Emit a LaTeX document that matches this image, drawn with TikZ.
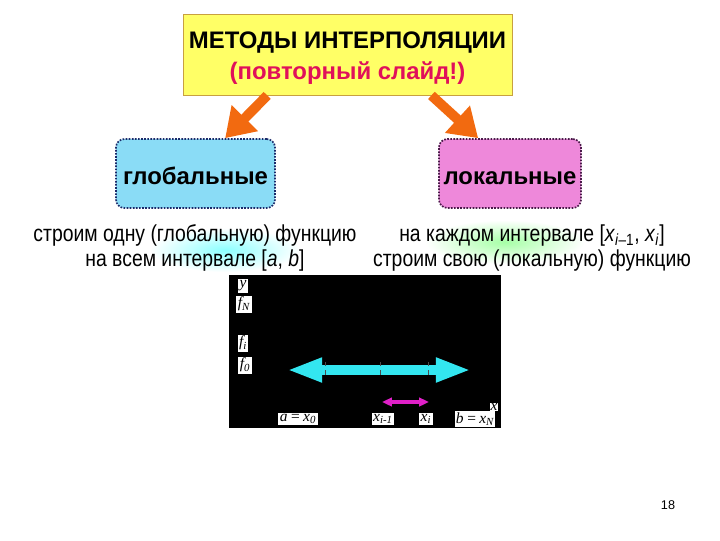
\documentclass[tikz,border=0pt]{standalone}
\usepackage{fontspec}
\setmainfont{Liberation Sans}
\newfontfamily\narrowfont{Liberation Sans}[FakeStretch=0.84]
\newfontfamily\labfont{Liberation Serif}
\usepackage{tikz}
\usetikzlibrary{arrows.meta,positioning,calc}
\definecolor{titlefill}{HTML}{FFFF66}
\definecolor{titleline}{HTML}{C8A040}
\definecolor{redtext}{HTML}{E0105A}
\definecolor{orangearr}{HTML}{F26A10}
\definecolor{globfill}{HTML}{8ADCF6}
\definecolor{globline}{HTML}{1A2A6A}
\definecolor{locfill}{HTML}{EE88DA}
\definecolor{locline}{HTML}{4A1A4A}
\definecolor{cyanarr}{HTML}{33E6F0}
\definecolor{magarr}{HTML}{E020C8}

\begin{document}
\begin{tikzpicture}[
  x=0.025cm, y=-0.025cm,
  topic/.style={rectangle, draw=titleline, fill=titlefill, line width=0.6pt,
    minimum width=329*0.711pt, minimum height=81*0.711pt, align=center,
    font=\fontsize{17}{21}\selectfont\bfseries},
  kind/.style={rectangle, rounded corners=6pt, densely dotted, line width=1.2pt,
    minimum height=69*0.711pt, text height=16.5pt, text depth=1pt,
    font=\fontsize{17}{20}\selectfont\bfseries},
  note/.style={align=center, font=\narrowfont\fontsize{16.4}{17.3}\selectfont},
  tag/.style={fill=white, inner sep=1pt, font=\labfont\itshape\fontsize{11}{12}\selectfont},
  bigarr/.style={-{Triangle[length=20pt, width=25pt]}, line width=7pt, orangearr},
]
  \useasboundingbox (0,0) rectangle (720,540);

  % soft glow behind the notes
  \shade[inner color=cyan!45, outer color=white] (225,250) ellipse (75 and 22);
  \shade[inner color=green!35, outer color=white] (505,242) ellipse (80 and 22);

  \node[topic] (title) at (347.5,54.5) {\rule{0pt}{17.5pt}МЕТОДЫ ИНТЕРПОЛЯЦИИ\\[1pt]
    {\color{redtext}(повторный слайд!)}};

  \node[kind, draw=globline, fill=globfill, minimum width=159*0.711pt] (glob) at (195.5,173.5) {глобальные};
  \node[kind, draw=locline, fill=locfill, minimum width=142*0.711pt] (loc) at (510,173.5) {локальные};

  \draw[bigarr] (title.207) -- (glob.50);
  \draw[bigarr] (title.334) -- (loc.132);

  \node[note] (globnote) at (195,248) {строим одну (глобальную) функцию\\на всем интервале [\textit{a}, \textit{b}]};
  \node[note] (locnote) at (532,248) {на каждом интервале [\textit{x}\textsubscript{\textit{i}–1}, \textit{x}\textsubscript{\textit{i}}]\\строим свою (локальную) функцию};

  % plot area
  \fill[black] (229,275) rectangle (501,428);

  \node[tag] (ly) at (243,286) {y};
  \node[tag] (lfn) at (244,304) {f\textsubscript{N}};
  \node[tag] (lfi) at (243,343) {f\textsubscript{i}};
  \node[tag] (lf0) at (245,365) {f\textsubscript{0}};
  \node[tag] (la) at (298,419) {a\,=\,x\textsubscript{0}};
  \node[tag] (lxm) at (383,419) {x\textsubscript{i-1}};
  \node[tag] (lxi) at (426,419) {x\textsubscript{i}};
  \node[tag] (lb) at (475,419) {b\,=\,x\textsubscript{N}};
  \node[tag, inner sep=0.5pt] (lx) at (494,407) {x};

  \coordinate (ga) at (287,370);
  \coordinate (gb) at (471,370);
  \draw[{Triangle[length=25pt, width=16pt]}-{Triangle[length=25pt, width=16pt]}, line width=7pt, cyanarr] (ga) -- (gb);
  \foreach \xx in {325,380,428}
    \draw[black!70, thin, dashed] (\xx,362) -- (\xx,378);

  \coordinate (ma) at (382,402);
  \coordinate (mb) at (429,402);
  \draw[{Triangle[length=7pt, width=6pt]}-{Triangle[length=7pt, width=6pt]}, line width=2.6pt, magarr] (ma) -- (mb);

  \node[font=\fontsize{9}{10}\selectfont] (page) at (668,505) {18};
\end{tikzpicture}
\end{document}
